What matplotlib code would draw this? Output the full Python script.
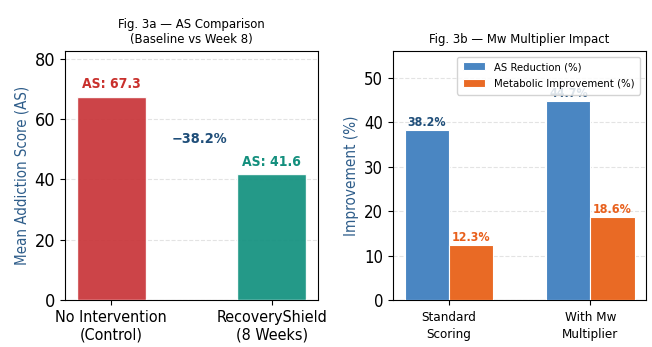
import matplotlib
matplotlib.use("Agg")
import matplotlib.pyplot as plt
import numpy as np

plt.rcParams["font.family"] = ["DejaVu Sans"]
plt.rcParams["font.stretch"] = "condensed"

# Data
groups_a = ["No Intervention\n(Control)", "RecoveryShield\n(8 Weeks)"]
as_scores = [67.3, 41.6]
reduction_label = "\u221238.2%"

groups_b = ["Standard\nScoring", "With Mw\nMultiplier"]
as_reduction = [38.2, 44.7]
metabolic_improvement = [12.3, 18.6]

fig = plt.figure(figsize=(6.52, 3.47), dpi=100)
ax1 = fig.add_axes([0.0997, 0.1354, 0.388, 0.7176])
ax2 = fig.add_axes([0.6028, 0.1354, 0.388, 0.7176])

# Panel a
cols_a = ["#c9363a", "#13917f"]
x = np.arange(len(groups_a))
ax1.bar(x, as_scores, width=0.43, color=cols_a, alpha=0.93, edgecolor="white", linewidth=1, zorder=3)
for xi, v, c in zip(x, as_scores, ["#c9302c", "#138f7d"]):
    ax1.text(xi, v + 1.8, f"AS: {v}", ha="center", va="bottom", fontsize=10, fontweight="bold", color=c)
ax1.text(0.55, 53.5, reduction_label, ha="center", va="center",
         fontsize=10.4, fontweight="bold", color="#1f4e79")
ax1.set_xticks(x)
ax1.set_xticklabels(groups_a, fontsize=11.5)
ax1.set_ylim(0, 82.5)
ax1.set_yticks([0, 20, 40, 60, 80])
ax1.tick_params(axis="y", labelsize=13)
ax1.set_ylabel("Mean Addiction Score (AS)", fontsize=10.8, color="#2e5d8a")
ax1.set_title("Fig. 3a \u2014 AS Comparison\n(Baseline vs Week 8)", fontsize=9.35)
ax1.grid(axis="y", linestyle="--", alpha=0.35, zorder=0)
ax1.set_axisbelow(True)

# Panel b
xb = np.arange(len(groups_b))
w = 0.31
ax2.bar(xb - w / 2, as_reduction, width=w, color="#4a86c2", edgecolor="white", linewidth=0.8,
        label="AS Reduction (%)", zorder=3)
ax2.bar(xb + w / 2, metabolic_improvement, width=w, color="#e96a25", edgecolor="white", linewidth=0.8,
        label="Metabolic Improvement (%)", zorder=3)
for xi, v in zip(xb - w / 2, as_reduction):
    ax2.text(xi, v + 0.2, f"{v}%", ha="center", va="bottom", fontsize=8.9, fontweight="bold", color="#1f4e79")
for xi, v in zip(xb + w / 2, metabolic_improvement):
    ax2.text(xi, v + 0.2, f"{v}%", ha="center", va="bottom", fontsize=8.9, fontweight="bold", color="#e8601c")
ax2.set_xticks(xb)
ax2.set_xticklabels(groups_b, fontsize=9.6, linespacing=1.35)
ax2.tick_params(axis="x", pad=4.5)
ax2.set_ylim(0, 56)
ax2.set_yticks([0, 10, 20, 30, 40, 50])
ax2.tick_params(axis="y", labelsize=12)
ax2.set_ylabel("Improvement (%)", fontsize=11, color="#2e5d8a")
ax2.set_title("Fig. 3b \u2014 Mw Multiplier Impact", fontsize=9.35)
ax2.grid(axis="y", linestyle="--", alpha=0.35, zorder=0)
ax2.set_axisbelow(True)
ax2.legend(loc="upper right", fontsize=8.1, framealpha=0.85, labelspacing=0.6, borderpad=0.5)

fig.savefig("out.png", dpi=100)
